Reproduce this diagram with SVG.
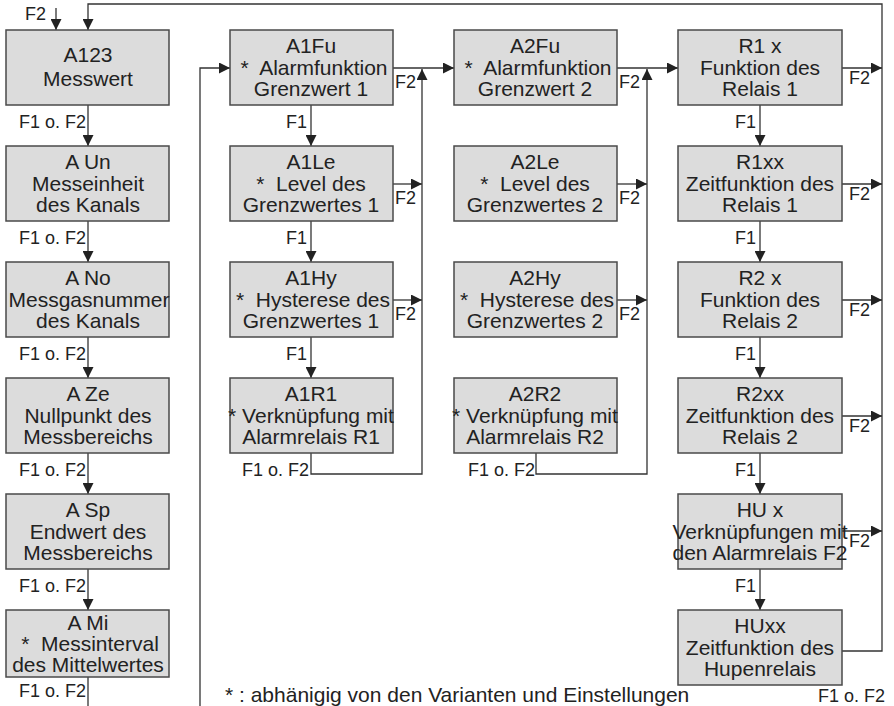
<svg xmlns="http://www.w3.org/2000/svg" width="894" height="706" viewBox="0 0 894 706">
  <style>
    .box { fill: #dcdcdc; stroke: #4a4a4a; stroke-width: 1.5; }
    .t { font-family: "Liberation Sans", Arial, sans-serif; font-size: 21px; fill: #222; text-anchor: middle; }
    .lbl { font-family: "Liberation Sans", Arial, sans-serif; font-size: 18px; fill: #222; }
    .r { text-anchor: end; }
    .note { font-family: "Liberation Sans", Arial, sans-serif; font-size: 21px; fill: #222; }
    .ln { fill: none; stroke: #333; stroke-width: 1.3; }
  </style>
  <defs>
    <marker id="arr" viewBox="0 0 12 12" refX="12" refY="6" markerWidth="12" markerHeight="11" markerUnits="userSpaceOnUse" orient="auto">
      <path d="M0,0 L12,6 L0,12 Z" fill="#222"/>
    </marker>
  </defs>
  <rect width="894" height="706" fill="#fff"/>

  <!-- connectors -->
  <g id="connectors">
    <path class="ln" d="M56 8 V30" marker-end="url(#arr)"/>
    <path class="ln" d="M842 651 H882 V4 H88 V30" marker-end="url(#arr)"/>
    <!-- column 1 -->
    <path class="ln" d="M88 105 V146" marker-end="url(#arr)"/>
    <path class="ln" d="M88 221 V262" marker-end="url(#arr)"/>
    <path class="ln" d="M88 337 V378" marker-end="url(#arr)"/>
    <path class="ln" d="M88 453 V494" marker-end="url(#arr)"/>
    <path class="ln" d="M88 569 V610" marker-end="url(#arr)"/>
    <path class="ln" d="M88 677 V706"/>
    <!-- column 2 -->
    <path class="ln" d="M200 706 V68 H230" marker-end="url(#arr)"/>
    <path class="ln" d="M311 105 V146" marker-end="url(#arr)"/>
    <path class="ln" d="M311 221 V262" marker-end="url(#arr)"/>
    <path class="ln" d="M311 337 V378" marker-end="url(#arr)"/>
    <path class="ln" d="M393 68 H454" marker-end="url(#arr)"/>
    <path class="ln" d="M393 184 H422" marker-end="url(#arr)"/>
    <path class="ln" d="M393 300 H422" marker-end="url(#arr)"/>
    <path class="ln" d="M311 453 V474 H422 V69" marker-end="url(#arr)"/>
    <!-- column 3 -->
    <path class="ln" d="M617 68 H678" marker-end="url(#arr)"/>
    <path class="ln" d="M617 184 H647" marker-end="url(#arr)"/>
    <path class="ln" d="M617 300 H647" marker-end="url(#arr)"/>
    <path class="ln" d="M536 453 V474 H647 V69" marker-end="url(#arr)"/>
    <!-- column 4 -->
    <path class="ln" d="M760 105 V146" marker-end="url(#arr)"/>
    <path class="ln" d="M760 221 V262" marker-end="url(#arr)"/>
    <path class="ln" d="M760 337 V378" marker-end="url(#arr)"/>
    <path class="ln" d="M760 453 V494" marker-end="url(#arr)"/>
    <path class="ln" d="M760 569 V610" marker-end="url(#arr)"/>
    <path class="ln" d="M842 68 H882" marker-end="url(#arr)"/>
    <path class="ln" d="M842 184 H882" marker-end="url(#arr)"/>
    <path class="ln" d="M842 300 H882" marker-end="url(#arr)"/>
    <path class="ln" d="M842 416 H882" marker-end="url(#arr)"/>
    <path class="ln" d="M842 531 H882" marker-end="url(#arr)"/>
  </g>

  <!-- connector labels -->
  <g id="labels">
    <text class="lbl" x="25" y="20">F2</text>
    <text class="lbl r" x="86" y="128">F1 o. F2</text>
    <text class="lbl r" x="86" y="244">F1 o. F2</text>
    <text class="lbl r" x="86" y="360">F1 o. F2</text>
    <text class="lbl r" x="86" y="476">F1 o. F2</text>
    <text class="lbl r" x="86" y="592">F1 o. F2</text>
    <text class="lbl r" x="86" y="697">F1 o. F2</text>

    <text class="lbl r" x="307" y="128">F1</text>
    <text class="lbl r" x="307" y="244">F1</text>
    <text class="lbl r" x="307" y="360">F1</text>
    <text class="lbl r" x="309" y="476">F1 o. F2</text>
    <text class="lbl" x="395" y="88">F2</text>
    <text class="lbl" x="395" y="204">F2</text>
    <text class="lbl" x="395" y="320">F2</text>

    <text class="lbl r" x="535" y="476">F1 o. F2</text>
    <text class="lbl" x="619" y="88">F2</text>
    <text class="lbl" x="619" y="204">F2</text>
    <text class="lbl" x="619" y="320">F2</text>

    <text class="lbl r" x="756" y="128">F1</text>
    <text class="lbl r" x="756" y="244">F1</text>
    <text class="lbl r" x="756" y="360">F1</text>
    <text class="lbl r" x="756" y="476">F1</text>
    <text class="lbl r" x="756" y="592">F1</text>
    <text class="lbl" x="849" y="84">F2</text>
    <text class="lbl" x="849" y="200">F2</text>
    <text class="lbl" x="849" y="316">F2</text>
    <text class="lbl" x="849" y="432">F2</text>
    <text class="lbl" x="849" y="547">F2</text>
    <text class="lbl r" x="885" y="702">F1 o. F2</text>
  </g>

  <!-- column 1 -->
  <g id="A123">
    <rect class="box" x="6" y="30" width="163" height="75"/>
    <text class="t" x="88" y="61.5">A123</text>
    <text class="t" x="88" y="86">Messwert</text>
  </g>
  <g id="AUn">
    <rect class="box" x="6" y="146" width="163" height="75"/>
    <text class="t" x="88" y="168.5">A Un</text>
    <text class="t" x="88" y="190.5">Messeinheit</text>
    <text class="t" x="88" y="212">des Kanals</text>
  </g>
  <g id="ANo">
    <rect class="box" x="6" y="262" width="163" height="75"/>
    <text class="t" x="88" y="284.5">A No</text>
    <text class="t" x="89" y="306.5">Messgasnummer</text>
    <text class="t" x="88" y="328">des Kanals</text>
  </g>
  <g id="AZe">
    <rect class="box" x="6" y="378" width="163" height="75"/>
    <text class="t" x="88" y="400.5">A Ze</text>
    <text class="t" x="88" y="422.5">Nullpunkt des</text>
    <text class="t" x="88" y="444">Messbereichs</text>
  </g>
  <g id="ASp">
    <rect class="box" x="6" y="494" width="163" height="75"/>
    <text class="t" x="88" y="516.5">A Sp</text>
    <text class="t" x="88" y="538.5">Endwert des</text>
    <text class="t" x="88" y="560">Messbereichs</text>
  </g>
  <g id="AMi">
    <rect class="box" x="6" y="610" width="163" height="67"/>
    <text class="t" x="88" y="630">A Mi</text>
    <text class="t" x="90" y="651" xml:space="preserve">*  Messinterval</text>
    <text class="t" x="88" y="672">des Mittelwertes</text>
  </g>

  <!-- column 2 -->
  <g id="A1Fu">
    <rect class="box" x="230" y="30" width="163" height="75"/>
    <text class="t" x="311" y="52.5">A1Fu</text>
    <text class="t" x="314" y="74.5" xml:space="preserve">*  Alarmfunktion</text>
    <text class="t" x="311" y="96">Grenzwert 1</text>
  </g>
  <g id="A1Le">
    <rect class="box" x="230" y="146" width="163" height="75"/>
    <text class="t" x="311" y="168.5">A1Le</text>
    <text class="t" x="311" y="190.5" xml:space="preserve">*  Level des</text>
    <text class="t" x="311" y="212">Grenzwertes 1</text>
  </g>
  <g id="A1Hy">
    <rect class="box" x="230" y="262" width="163" height="75"/>
    <text class="t" x="311" y="284.5">A1Hy</text>
    <text class="t" x="313" y="306.5" xml:space="preserve">*  Hysterese des</text>
    <text class="t" x="311" y="328">Grenzwertes 1</text>
  </g>
  <g id="A1R1">
    <rect class="box" x="230" y="378" width="163" height="75"/>
    <text class="t" x="311" y="400.5">A1R1</text>
    <text class="t" x="311" y="422.5">* Verknüpfung mit</text>
    <text class="t" x="311" y="444">Alarmrelais R1</text>
  </g>

  <!-- column 3 -->
  <g id="A2Fu">
    <rect class="box" x="454" y="30" width="163" height="75"/>
    <text class="t" x="535" y="52.5">A2Fu</text>
    <text class="t" x="538" y="74.5" xml:space="preserve">*  Alarmfunktion</text>
    <text class="t" x="535" y="96">Grenzwert 2</text>
  </g>
  <g id="A2Le">
    <rect class="box" x="454" y="146" width="163" height="75"/>
    <text class="t" x="535" y="168.5">A2Le</text>
    <text class="t" x="535" y="190.5" xml:space="preserve">*  Level des</text>
    <text class="t" x="535" y="212">Grenzwertes 2</text>
  </g>
  <g id="A2Hy">
    <rect class="box" x="454" y="262" width="163" height="75"/>
    <text class="t" x="535" y="284.5">A2Hy</text>
    <text class="t" x="537" y="306.5" xml:space="preserve">*  Hysterese des</text>
    <text class="t" x="535" y="328">Grenzwertes 2</text>
  </g>
  <g id="A2R2">
    <rect class="box" x="454" y="378" width="163" height="75"/>
    <text class="t" x="535" y="400.5">A2R2</text>
    <text class="t" x="535" y="422.5">* Verknüpfung mit</text>
    <text class="t" x="535" y="444">Alarmrelais R2</text>
  </g>

  <!-- column 4 -->
  <g id="R1x">
    <rect class="box" x="678" y="30" width="164" height="75"/>
    <text class="t" x="760" y="52.5">R1 x</text>
    <text class="t" x="760" y="74.5">Funktion des</text>
    <text class="t" x="760" y="96">Relais 1</text>
  </g>
  <g id="R1xx">
    <rect class="box" x="678" y="146" width="164" height="75"/>
    <text class="t" x="760" y="168.5">R1xx</text>
    <text class="t" x="760" y="190.5">Zeitfunktion des</text>
    <text class="t" x="760" y="212">Relais 1</text>
  </g>
  <g id="R2x">
    <rect class="box" x="678" y="262" width="164" height="75"/>
    <text class="t" x="760" y="284.5">R2 x</text>
    <text class="t" x="760" y="306.5">Funktion des</text>
    <text class="t" x="760" y="328">Relais 2</text>
  </g>
  <g id="R2xx">
    <rect class="box" x="678" y="378" width="164" height="75"/>
    <text class="t" x="760" y="400.5">R2xx</text>
    <text class="t" x="760" y="422.5">Zeitfunktion des</text>
    <text class="t" x="760" y="444">Relais 2</text>
  </g>
  <g id="HUx">
    <rect class="box" x="678" y="494" width="164" height="75"/>
    <text class="t" x="760" y="516.5">HU x</text>
    <text class="t" x="760" y="538.5">Verknüpfungen mit</text>
    <text class="t" x="760" y="560">den Alarmrelais F2</text>
  </g>
  <g id="HUxx">
    <rect class="box" x="678" y="610" width="164" height="75"/>
    <text class="t" x="760" y="632.5">HUxx</text>
    <text class="t" x="760" y="654.5">Zeitfunktion des</text>
    <text class="t" x="760" y="676">Hupenrelais</text>
  </g>

  <text class="note" x="225" y="702">* : abhänigig von den Varianten und Einstellungen</text>
</svg>
